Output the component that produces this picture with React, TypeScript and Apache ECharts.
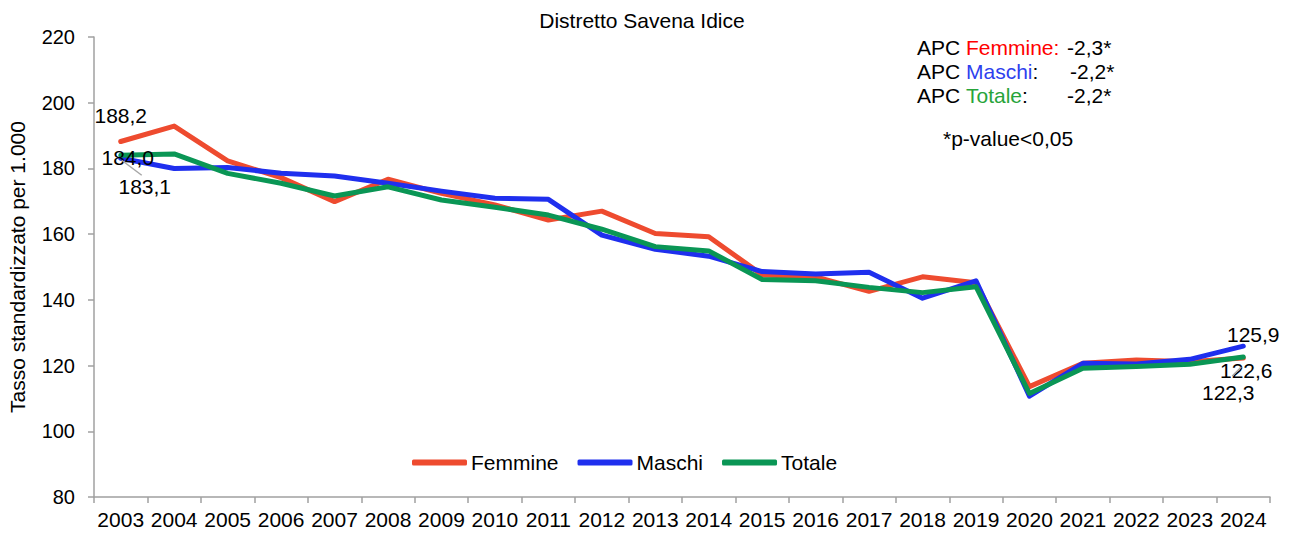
import React, { useEffect, useRef } from "react";
import * as echarts from "echarts";

const years = ["2003","2004","2005","2006","2007","2008","2009","2010","2011","2012","2013","2014","2015","2016","2017","2018","2019","2020","2021","2022","2023","2024"];
const femmine = [188.2,192.9,182.3,177.2,169.9,176.7,172.4,168.9,164.3,167.0,160.2,159.2,147.6,147.0,142.6,147.0,145.2,113.6,120.7,121.7,121.2,122.3];
const maschi = [183.1,180.0,180.3,178.5,177.7,175.5,173.1,170.9,170.6,159.7,155.4,153.3,148.6,147.9,148.4,140.5,145.8,110.7,120.7,120.5,121.9,125.9];
const totale = [184.0,184.4,178.5,175.5,171.6,174.4,170.4,168.2,165.8,161.5,156.2,154.9,146.2,145.8,143.8,142.2,144.0,111.5,119.2,119.7,120.4,122.6];
const yTicks = { min: 80, max: 220, interval: 20 };
const apcNames = ["Femmine", "Maschi", "Totale"];
const apcValues = ["-2,3*", "-2,2*", "-2,2*"];
const pNote = "*p-value<0,05";

const FONT = "'Liberation Sans', Arial, sans-serif";
const C_F = "#EE4B2F";
const C_M = "#1F2FEE";
const C_T = "#0A9655";
const APC_COLORS = ["#FF0000", "#2E3FEE", "#27A43A"];

const fmt = (v: number) => v.toFixed(1).replace(".", ",");

export default function App() {
  const ref = useRef<HTMLDivElement>(null);
  useEffect(() => {
    const chart = echarts.init(ref.current!, null, { renderer: "svg" });
    const last = years.length - 1;
    const lbl = (ox: number, oy: number) => ({
      show: true, position: "inside", offset: [ox, oy],
      fontSize: 21, color: "#000", fontFamily: FONT,
      formatter: (p: any) => fmt(p.value),
    });
    const mk = (values: number[], specs: Record<number, [number, number]>) =>
      values.map((v, i) => (specs[i] ? { value: v, label: lbl(specs[i][0], specs[i][1]) } : v));

    const base = (name: string, color: string, data: any[], z: number) => ({
      name, type: "line", data, z,
      symbol: "circle", symbolSize: 1, showSymbol: true, showAllSymbol: true,
      lineStyle: { width: 5, color, join: "round", cap: "round" },
      itemStyle: { color },
      emphasis: { disabled: true },
    });

    const series = [
      base("Femmine", C_F, mk(femmine, { 0: [0, -26], [last]: [-15, 34] }), 2),
      base("Maschi", C_M, mk(maschi, { 0: [24, 28], [last]: [10, -12] }), 3),
      base("Totale", C_T, mk(totale, { 0: [7, 2], [last]: [3, 13] }), 4),
    ];

    chart.setOption({
      animation: false,
      textStyle: { fontFamily: FONT },
      title: {
        text: "Distretto Savena Idice",
        left: 642, top: 10, textAlign: "center", padding: 0,
        textStyle: { fontSize: 21, fontWeight: "normal", color: "#000", fontFamily: FONT },
      },
      grid: { left: 94, right: 20, top: 37, bottom: 36, containLabel: false, outerBoundsMode: "none" },
      legend: {
        left: 412, top: 452, padding: 0,
        itemWidth: 55, itemHeight: 6, itemGap: 19,
        icon: "roundRect",
        textStyle: { fontSize: 21, color: "#000", fontFamily: FONT, padding: [0, 0, 0, -1] },
        data: ["Femmine", "Maschi", "Totale"],
      },
      xAxis: {
        type: "category", data: years, boundaryGap: true,
        axisLine: { lineStyle: { color: "#a0a0a0", width: 1.5 } },
        axisTick: { show: true, length: 6, lineStyle: { color: "#a0a0a0", width: 1.5 } },
        axisLabel: { fontSize: 21, color: "#000", fontFamily: FONT, margin: 12, interval: 0 },
      },
      yAxis: {
        type: "value", min: yTicks.min, max: yTicks.max, interval: yTicks.interval,
        name: "Tasso standardizzato per 1.000",
        nameLocation: "middle", nameGap: 66, nameRotate: 90,
        nameTextStyle: { fontSize: 21, color: "#000", fontFamily: FONT },
        axisLine: { show: true, lineStyle: { color: "#a0a0a0", width: 1.5 } },
        axisTick: { show: true, length: 6, lineStyle: { color: "#a0a0a0", width: 1.5 } },
        axisLabel: { fontSize: 20, color: "#000", fontFamily: FONT, margin: 19 },
        splitLine: { show: false },
      },
      series,
    });

    // leader lines derived from data points through the library's scales
    const pM = chart.convertToPixel({ gridIndex: 0 }, [years[0], maschi[0]]) as number[];
    const pF = chart.convertToPixel({ gridIndex: 0 }, [years[last], femmine[last]]) as number[];

    const graphics: any[] = [];
    apcNames.forEach((n, i) => {
      graphics.push({
        type: "text", x: 917, y: 47 + i * 24,
        style: {
          verticalAlign: "middle",
          rich: {
            b: { fontSize: 21, fontFamily: FONT, fill: "#000" },
            c: { fontSize: 21, fontFamily: FONT, fill: APC_COLORS[i] },
          },
          text: `{b|APC }{c|${n}}{${i === 0 ? "c" : "b"}|:}`,
        },
      });
      graphics.push({
        type: "text", x: i === 1 ? 1070 : 1067, y: 47 + i * 24,
        style: { text: apcValues[i], fontSize: 21, fontFamily: FONT, fill: "#000", verticalAlign: "middle" },
      });
    });
    graphics.push({
      type: "text", x: 943, y: 138,
      style: { text: pNote, fontSize: 21, fontFamily: FONT, fill: "#000", verticalAlign: "middle" },
    });
    graphics.push({
      type: "line", z: 10,
      shape: { x1: pM[0] + 1, y1: pM[1] + 2, x2: pM[0] + 21, y2: pM[1] + 17 },
      style: { stroke: "#a6a6a6", lineWidth: 1.5 },
    });
    graphics.push({
      type: "line", z: 10,
      shape: { x1: pF[0] - 2, y1: pF[1] + 9, x2: pF[0] - 11, y2: pF[1] + 18 },
      style: { stroke: "#a6a6a6", lineWidth: 1.5 },
    });
    chart.setOption({ graphic: graphics });

    return () => chart.dispose();
  }, []);
  return <div ref={ref} style={{ position: "absolute", left: 0, top: 0, width: 1290, height: 533 }} />;
}
